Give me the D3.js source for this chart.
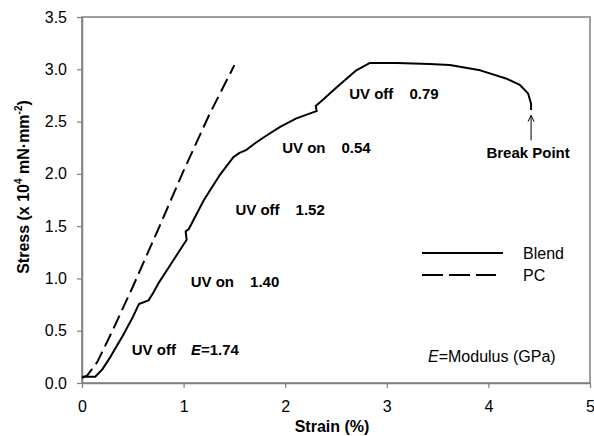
<!DOCTYPE html>
<html>
<head>
<meta charset="utf-8">
<script src="https://cdn.jsdelivr.net/npm/d3@7"></script>
<style>
  body { margin: 0; background: #fff; }
  text { font-family: "Liberation Sans", Arial, sans-serif; }
</style>
</head>
<body>
<script>
// data (strain %, stress x10^4 mN/mm^2)
const blendStrain = [0, 0.13, 0.2, 0.28, 0.4, 0.5, 0.56, 0.6, 0.655, 0.7, 0.75, 0.85, 0.95, 1.03, 1.02, 1.05,
  1.2, 1.35, 1.49, 1.55, 1.62, 1.7, 1.79, 1.95, 2.11, 2.28, 2.31, 2.30, 2.36, 2.51, 2.70, 2.83,
  3.10, 3.42, 3.62, 3.92, 4.18, 4.31, 4.39, 4.42, 4.42];
const blendStress = [0.06, 0.06, 0.13, 0.25, 0.45, 0.63, 0.755, 0.77, 0.79, 0.86, 0.95, 1.1, 1.25, 1.37, 1.45, 1.47,
  1.75, 1.98, 2.16, 2.2, 2.23, 2.29, 2.35, 2.45, 2.53, 2.59, 2.60, 2.65, 2.70, 2.83, 2.99, 3.06,
  3.06, 3.05, 3.04, 2.99, 2.91, 2.85, 2.77, 2.67, 2.61];
const pcStrain = [0, 0.05, 0.15, 0.3, 0.5, 0.75, 1.0, 1.25, 1.5];
const pcStress = [0.05, 0.07, 0.2, 0.5, 0.92, 1.47, 2.03, 2.56, 3.04];

const xTicks = [0, 1, 2, 3, 4, 5];
const yTicks = [0, 0.5, 1, 1.5, 2, 2.5, 3, 3.5];

const notes = [
  {x: 0.49, y: 0.27, parts: ["UV off", "E", "=1.74"]},
  {x: 1.07, y: 0.92, parts: ["UV on", "", "1.40"]},
  {x: 1.51, y: 1.61, parts: ["UV off", "", "1.52"]},
  {x: 1.97, y: 2.2, parts: ["UV on", "", "0.54"]},
  {x: 2.63, y: 2.72, parts: ["UV off", "", "0.79"]}
];

const W = 594, H = 436;
const x = d3.scaleLinear().domain([0, 5]).range([82, 590]);
const y = d3.scaleLinear().domain([0, 3.5]).range([383, 17]);

const svg = d3.select("body").append("svg")
  .attr("width", W).attr("height", H);

const axisColor = "#7f7f7f";

// frame
svg.append("rect")
  .attr("x", x(0)).attr("y", y(3.5))
  .attr("width", x(5) - x(0)).attr("height", y(0) - y(3.5))
  .attr("fill", "none").attr("stroke", axisColor).attr("stroke-width", 1.5);

const xAxis = svg.append("g")
  .attr("transform", `translate(0,${y(0)})`)
  .call(d3.axisBottom(x).tickValues(xTicks).tickFormat(d3.format("d")).tickSize(5).tickSizeOuter(0).tickPadding(13));
const yAxis = svg.append("g")
  .attr("transform", `translate(${x(0)},0)`)
  .call(d3.axisLeft(y).tickValues(yTicks).tickFormat(d3.format(".1f")).tickSize(5).tickSizeOuter(0).tickPadding(10));

[xAxis, yAxis].forEach(a => {
  a.select(".domain").attr("stroke", axisColor).attr("stroke-width", 1.5);
  a.selectAll(".tick line").attr("stroke", axisColor).attr("stroke-width", 1.2);
  a.selectAll(".tick text").attr("font-size", 16).attr("fill", "#000")
    .attr("font-family", '"Liberation Sans", Arial, sans-serif');
});

// axis titles
svg.append("text")
  .attr("x", (x(0) + x(5)) / 2 - 4).attr("y", 432)
  .attr("text-anchor", "middle").attr("font-size", 16).attr("font-weight", "bold")
  .text("Strain (%)");

const yt = svg.append("text")
  .attr("transform", `translate(29,${(y(0) + y(3.5)) / 2 - 13}) rotate(-90)`)
  .attr("text-anchor", "middle").attr("font-size", 16).attr("font-weight", "bold");
yt.append("tspan").text("Stress (x 10");
yt.append("tspan").attr("font-size", 10).attr("dy", -7).text("4");
yt.append("tspan").attr("dy", 7).text(" mN\u00b7mm");
yt.append("tspan").attr("font-size", 10).attr("dy", -7).text("-2");
yt.append("tspan").attr("dy", 7).text(")");

// curves
const line = d3.line().x(d => x(d[0])).y(d => y(d[1]));
const blend = blendStrain.map((s, i) => [s, blendStress[i]]);
const pc = pcStrain.map((s, i) => [s, pcStress[i]]);

svg.append("path").datum(blend).attr("d", line)
  .attr("fill", "none").attr("stroke", "#000").attr("stroke-width", 2).attr("stroke-linejoin", "round");
svg.append("path").datum(pc).attr("d", line)
  .attr("fill", "none").attr("stroke", "#000").attr("stroke-width", 2).attr("stroke-dasharray", "14,6");

// stage annotations
notes.forEach(n => {
  const t = svg.append("text").attr("x", x(n.x)).attr("y", y(n.y))
    .attr("font-size", 15).attr("font-weight", "bold");
  t.append("tspan").text(n.parts[0]);
  if (n.parts[1]) {
    t.append("tspan").attr("dx", 15).attr("font-style", "italic").text(n.parts[1]);
    t.append("tspan").text(n.parts[2]);
  } else {
    t.append("tspan").attr("dx", 16).text(n.parts[2]);
  }
});

// break point arrow
const bx = blendStrain[blendStrain.length - 1];
svg.append("line")
  .attr("x1", x(bx)).attr("x2", x(bx))
  .attr("y1", y(2.32)).attr("y2", y(2.56))
  .attr("stroke", "#000").attr("stroke-width", 1);
svg.append("path")
  .attr("d", `M${x(bx) - 3},${y(2.5)} L${x(bx)},${y(2.56)} L${x(bx) + 3},${y(2.5)}`)
  .attr("fill", "none").attr("stroke", "#000").attr("stroke-width", 1);
svg.append("text")
  .attr("x", x(bx) - 3).attr("y", y(2.15))
  .attr("text-anchor", "middle").attr("font-size", 15).attr("font-weight", "bold")
  .text("Break Point");

// legend
const legend = svg.append("g");
legend.append("line").attr("x1", 422).attr("x2", 503).attr("y1", 253).attr("y2", 253)
  .attr("stroke", "#000").attr("stroke-width", 2);
legend.append("line").attr("x1", 422).attr("x2", 496).attr("y1", 275).attr("y2", 275)
  .attr("stroke", "#000").attr("stroke-width", 2).attr("stroke-dasharray", "21,6");
legend.append("text").attr("x", 523).attr("y", 259).attr("font-size", 16).text("Blend");
legend.append("text").attr("x", 523).attr("y", 281).attr("font-size", 16).text("PC");

const mod = svg.append("text").attr("x", 428).attr("y", 362).attr("font-size", 16);
mod.append("tspan").attr("font-style", "italic").text("E");
mod.append("tspan").text("=Modulus (GPa)");
</script>
</body>
</html>
